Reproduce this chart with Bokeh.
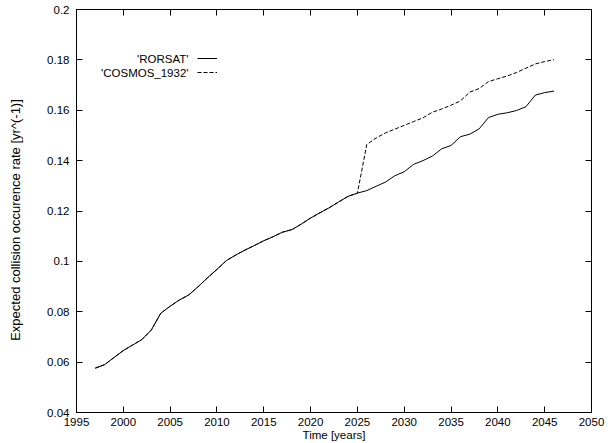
from bokeh.plotting import figure
from bokeh.models import (LinearAxis, FixedTicker, Legend, LegendItem, Label, Range1d)
from bokeh.embed import file_html
from bokeh.resources import INLINE

years_rorsat = list(range(1997, 2047))
rorsat = [0.0576, 0.0590, 0.0618, 0.0646, 0.0668, 0.0690, 0.0728, 0.0794, 0.0822, 0.0847,
          0.0867, 0.0900, 0.0935, 0.0968, 0.1003, 0.1025, 0.1045, 0.1063, 0.1082, 0.1098,
          0.1116, 0.1126, 0.1148, 0.1172, 0.1193, 0.1213, 0.1236, 0.1258, 0.1271, 0.1281,
          0.1298, 0.1315, 0.1340, 0.1356, 0.1385, 0.1400, 0.1418, 0.1447, 0.1460, 0.1495,
          0.1505, 0.1526, 0.1571, 0.1584, 0.1590, 0.1599, 0.1614, 0.1660, 0.1670, 0.1676]
years_cosmos = list(range(1997, 2047))
cosmos = rorsat[:29] + [0.1464, 0.1490, 0.1510, 0.1525, 0.1540, 0.1555, 0.1570, 0.1592,
                        0.1605, 0.1620, 0.1637, 0.1672, 0.1686, 0.1714, 0.1725, 0.1736,
                        0.1750, 0.1767, 0.1784, 0.1793, 0.1801]

x_ticks = [1995, 2000, 2005, 2010, 2015, 2020, 2025, 2030, 2035, 2040, 2045, 2050]
y_ticks = [0.04, 0.06, 0.08, 0.1, 0.12, 0.14, 0.16, 0.18, 0.2]
y_tick_labels = ["0.04", "0.06", "0.08", "0.1", "0.12", "0.14", "0.16", "0.18", "0.2"]
series_names = ["'RORSAT'", "'COSMOS_1932'"]
x_title = "Time [years]"
y_title = "Expected collision occurence rate [yr^(-1)]"

FONT = "Liberation Sans"
FS = "11.5px"

p = figure(width=612, height=443, output_backend="svg", toolbar_location=None,
           x_range=Range1d(1995, 2050), y_range=Range1d(0.04, 0.2),
           min_border_left=76, min_border_right=21, min_border_top=9, min_border_bottom=31)
p.grid.visible = False
p.outline_line_color = "black"
p.outline_line_width = 1
p.background_fill_color = "white"
p.border_fill_color = "white"

def style_axis(ax, ticks, show_labels=True):
    ax.ticker = FixedTicker(ticks=ticks)
    ax.major_tick_in = 6
    ax.major_tick_out = 0
    ax.minor_tick_line_color = None
    ax.axis_line_color = "black"
    ax.major_tick_line_color = "black"
    ax.major_label_text_font = FONT
    ax.major_label_text_font_size = FS if show_labels else "0px"
    ax.major_label_text_color = "black" if show_labels else None
    ax.axis_label_text_font = FONT
    ax.axis_label_text_font_size = FS
    ax.axis_label_text_font_style = "normal"
    ax.axis_label_text_color = "black"

style_axis(p.xaxis[0], x_ticks)
p.xaxis[0].major_label_standoff = 5
p.xaxis[0].axis_label = x_title
p.xaxis[0].axis_label_standoff = 0
style_axis(p.yaxis[0], y_ticks)
p.yaxis[0].major_label_overrides = {t: s for t, s in zip(y_ticks, y_tick_labels)}
p.yaxis[0].major_label_standoff = 7
# trailing no-break spaces nudge the rotated title slightly below the frame centre, as in the original
p.yaxis[0].axis_label = y_title + "\u00a0" * 5
p.yaxis[0].axis_label_text_font_size = "13px"
p.yaxis[0].axis_label_standoff = 21

ra = LinearAxis()
style_axis(ra, y_ticks, show_labels=False)
p.add_layout(ra, "right")
ta = LinearAxis()
style_axis(ta, x_ticks, show_labels=False)
p.add_layout(ta, "above")

r1 = p.line(years_rorsat, rorsat, line_color="black", line_width=1)
r2 = p.line(years_cosmos, cosmos, line_color="black", line_width=1, line_dash="4 2")

legend = Legend(items=[LegendItem(label=" ", renderers=[r1]),
                       LegendItem(label=" ", renderers=[r2])],
                location=(121, 333), orientation="vertical",
                glyph_width=20, glyph_height=14, label_height=14, label_width=1,
                spacing=0, padding=0, margin=0, label_standoff=0,
                border_line_color=None, background_fill_alpha=0,
                label_text_font_size="6px")
p.add_layout(legend, "center")

for i, name in enumerate(series_names):
    p.add_layout(Label(x=112, y=354 - 14 * i, x_units="screen", y_units="screen",
                       text=name, text_align="right", text_baseline="middle",
                       text_font=FONT, text_font_size=FS, text_color="black"))

open("out.html", "w").write(file_html(p, INLINE))
